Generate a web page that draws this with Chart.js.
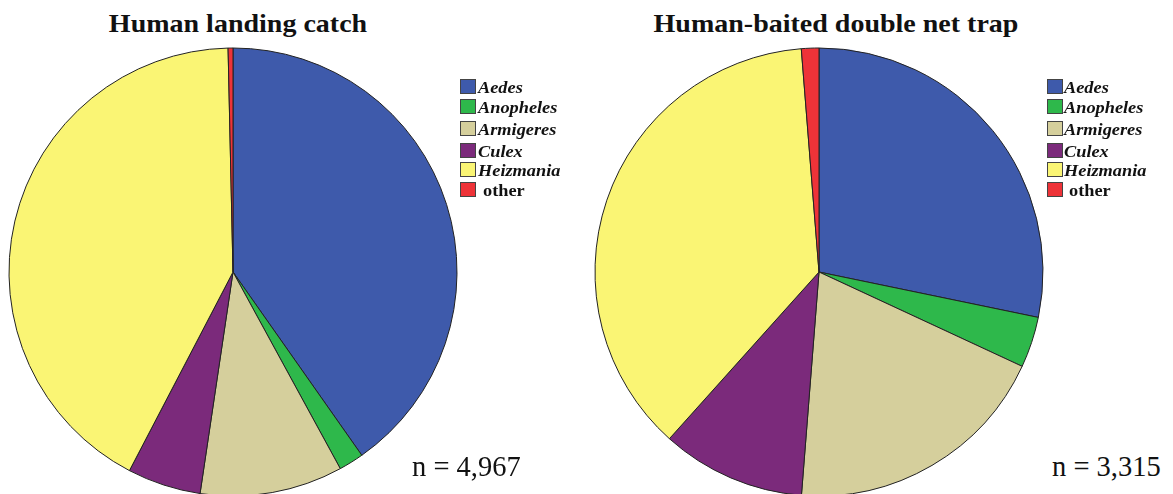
<!DOCTYPE html>
<html>
<head>
<meta charset="utf-8">
<script src="https://cdn.jsdelivr.net/npm/chart.js@4.4.0/dist/chart.umd.min.js"></script>
<style>
  html, body { margin:0; padding:0; width:1173px; height:494px; overflow:hidden; background:#fff; }
  .wrap { position:absolute; width:466px; height:466px; }
  .title { position:absolute; font-family:"Liberation Serif","Times New Roman",serif; font-weight:bold; font-size:25px; line-height:1; white-space:nowrap; color:#111; transform:translateX(-50%) scaleX(1.12); }
  .leg { position:absolute; font-family:"Liberation Serif","Times New Roman",serif; font-weight:bold; font-style:italic; font-size:16.5px; line-height:1; white-space:nowrap; color:#111; transform:scaleX(1.11); transform-origin:left top; }
  .leg.plain { font-style:normal; }
  .box { position:absolute; width:14px; height:13px; border:1px solid #444; }
  .nlab { position:absolute; font-family:"Liberation Serif","Times New Roman",serif; font-size:28.5px; line-height:1; white-space:nowrap; color:#111; }
</style>
</head>
<body>
<div class="wrap" style="left:0px;top:39px;"><canvas id="c1" width="466" height="466"></canvas></div>
<div class="wrap" style="left:586px;top:39px;"><canvas id="c2" width="466" height="466"></canvas></div>
<div id="overlay"></div>
<script>
const categories = ["Aedes", "Anopheles", "Armigeres", "Culex", "Heizmania", "other"];
const landingValues = [40.25, 1.8, 10.3, 5.3, 42.0, 0.35];
const netTrapValues = [28.25, 3.67, 19.33, 10.39, 37.1, 1.26];
const titles = ["Human landing catch", "Human-baited double net trap"];
const nLabels = ["n = 4,967", "n = 3,315"];
const colors = ["#3E5AAB", "#2EB84B", "#D5CF9C", "#7B2A7B", "#FAF574", "#EE3338"];

function makePie(id, values) {
  new Chart(document.getElementById(id), {
    type: 'pie',
    data: {
      labels: categories,
      datasets: [{
        data: values,
        backgroundColor: colors,
        borderColor: '#222',
        borderWidth: 1,
        radius: 224
      }]
    },
    options: {
      responsive: false,
      animation: false,
      layout: { padding: 0 },
      plugins: { legend: { display: false }, tooltip: { enabled: false }, title: { display: false } }
    }
  });
}
makePie('c1', landingValues);
makePie('c2', netTrapValues);

// overlay texts
const ov = document.getElementById('overlay');
function add(cls, text, left, top, extra) {
  const d = document.createElement('div');
  d.className = cls;
  d.textContent = text;
  d.style.left = left + 'px';
  d.style.top = top + 'px';
  if (extra) Object.assign(d.style, extra);
  ov.appendChild(d);
  return d;
}
const titleCx = [237.5, 836];
titles.forEach((t, i) => add('title', t, titleCx[i], 11));

const boxTops = [78.5, 99, 120.5, 142.5, 161.5, 181.5];
const boxX = [460, 1047];
const textX = [478, 1064];
[0, 1].forEach(p => {
  categories.forEach((c, k) => {
    const b = document.createElement('div');
    b.className = 'box';
    b.style.left = boxX[p] + 'px';
    b.style.top = boxTops[k] + 'px';
    b.style.background = colors[k];
    ov.appendChild(b);
    const isOther = c === 'other';
    add(isOther ? 'leg plain' : 'leg', c, textX[p] + (isOther ? 5 : 0), boxTops[k] + 15 - 13.8);
  });
});
const nX = [412, 1052];
nLabels.forEach((t, i) => add('nlab', t, nX[i], 452.8));
</script>
</body>
</html>
